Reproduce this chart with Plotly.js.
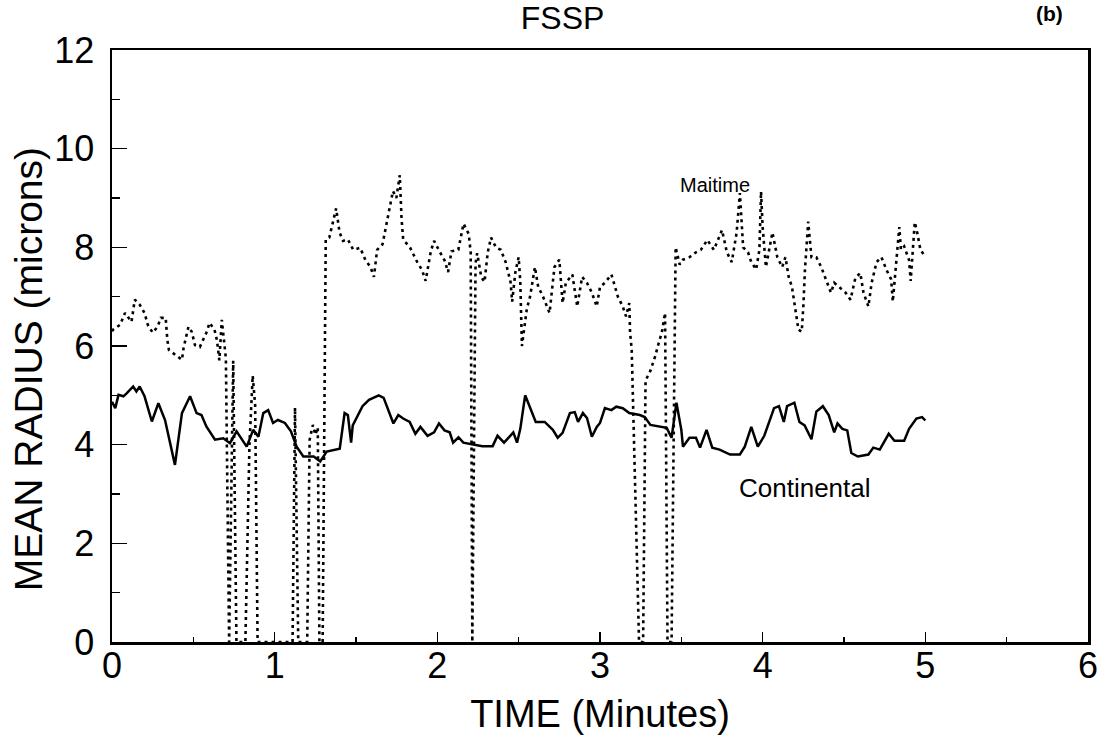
<!DOCTYPE html>
<html>
<head>
<meta charset="utf-8">
<script src="https://cdn.plot.ly/plotly-3.0.1.min.js"></script>
<style>html,body{margin:0;padding:0;background:#fff;}#chart{width:1103px;height:741px;}</style>
</head>
<body>
<div id="chart"></div>
<script>
// Continental (solid) — time in minutes, mean radius in microns
const contTime = [0.00,0.02,0.04,0.07,0.09,0.11,0.13,0.15,0.17,0.20,0.245,0.285,0.326,0.387,0.43,0.48,0.52,0.55,0.58,0.633,0.684,0.725,0.766,0.828,0.868,0.90,0.93,0.96,0.99,1.02,1.063,1.10,1.135,1.176,1.24,1.28,1.32,1.40,1.43,1.45,1.47,1.48,1.54,1.58,1.64,1.67,1.73,1.76,1.79,1.83,1.865,1.896,1.94,1.98,2.01,2.044,2.076,2.097,2.13,2.16,2.21,2.277,2.34,2.37,2.41,2.467,2.49,2.51,2.54,2.605,2.66,2.71,2.74,2.77,2.815,2.845,2.865,2.895,2.92,2.95,2.98,3.00,3.02,3.03,3.07,3.10,3.14,3.18,3.245,3.275,3.31,3.38,3.41,3.44,3.47,3.50,3.51,3.55,3.59,3.615,3.655,3.69,3.735,3.80,3.86,3.89,3.93,3.97,4.01,4.07,4.10,4.13,4.15,4.195,4.226,4.258,4.30,4.33,4.37,4.406,4.44,4.46,4.49,4.52,4.545,4.585,4.65,4.68,4.72,4.775,4.81,4.87,4.90,4.945,4.98,5.00];
const contRadius = [4.87,4.74,5.01,4.98,5.04,5.11,5.18,5.08,5.18,4.98,4.47,4.84,4.50,3.59,4.64,4.98,4.64,4.60,4.37,4.10,4.13,4.03,4.27,3.96,4.30,4.16,4.64,4.70,4.44,4.50,4.44,4.27,3.96,3.76,3.76,3.66,3.86,3.92,4.64,4.60,4.04,4.39,4.78,4.91,5.00,4.95,4.43,4.60,4.53,4.46,4.22,4.36,4.18,4.25,4.43,4.29,4.25,4.04,4.15,4.04,4.01,3.97,3.97,4.18,4.04,4.25,4.04,4.32,5.00,4.46,4.46,4.30,4.14,4.24,4.64,4.66,4.46,4.64,4.54,4.16,4.36,4.44,4.64,4.74,4.70,4.77,4.74,4.64,4.60,4.56,4.40,4.36,4.34,4.14,4.85,4.30,3.96,4.14,4.14,3.94,4.30,3.94,3.90,3.80,3.80,3.96,4.36,3.96,4.18,4.74,4.78,4.46,4.78,4.85,4.46,4.39,4.11,4.67,4.78,4.60,4.25,4.43,4.32,4.29,3.83,3.76,3.80,3.94,3.90,4.22,4.08,4.08,4.32,4.53,4.56,4.49];

// Maritime (dotted)
const mariTime = [0.00,0.006,0.05,0.08,0.12,0.14,0.17,0.20,0.22,0.25,0.28,0.30,0.33,0.34,0.35,0.39,0.43,0.44,0.47,0.49,0.51,0.54,0.58,0.60,0.63,0.645,0.66,0.675,0.69,0.70,0.72,0.745,0.765,0.82,0.845,0.865,0.88,0.895,1.11,1.125,1.145,1.20,1.215,1.235,1.25,1.265,1.275,1.295,1.314,1.336,1.378,1.399,1.42,1.45,1.483,1.526,1.558,1.589,1.61,1.63,1.663,1.684,1.705,1.727,1.748,1.769,1.78,1.79,1.833,1.875,1.906,1.928,1.96,1.98,2.013,2.044,2.066,2.087,2.129,2.161,2.193,2.205,2.215,2.235,2.245,2.27,2.29,2.31,2.33,2.36,2.39,2.42,2.45,2.46,2.48,2.50,2.51,2.52,2.55,2.57,2.60,2.62,2.65,2.69,2.72,2.75,2.77,2.79,2.83,2.86,2.89,2.92,2.95,2.98,3.00,3.03,3.07,3.11,3.14,3.16,3.18,3.185,3.195,3.24,3.265,3.28,3.31,3.34,3.36,3.38,3.39,3.40,3.415,3.44,3.465,3.49,3.51,3.55,3.59,3.62,3.66,3.70,3.75,3.78,3.81,3.84,3.86,3.88,3.91,3.93,3.96,3.98,3.99,4.00,4.02,4.06,4.09,4.12,4.14,4.16,4.18,4.20,4.22,4.24,4.25,4.26,4.27,4.28,4.30,4.33,4.36,4.39,4.42,4.44,4.47,4.51,4.54,4.57,4.60,4.62,4.65,4.67,4.70,4.73,4.76,4.79,4.80,4.82,4.84,4.85,4.87,4.90,4.91,4.935,4.95,4.97,5.00];
const mariRadius = [6.30,6.33,6.43,6.67,6.49,6.94,6.84,6.67,6.43,6.27,6.39,6.57,6.57,6.13,5.92,5.82,5.72,5.96,6.39,6.29,6.02,5.98,6.27,6.47,6.33,6.12,5.71,6.53,6.00,5.75,0,5.70,0,0,4.00,5.40,4.80,0,0,4.75,0,0,4.10,4.40,4.20,4.35,0,0,8.16,8.20,8.79,8.30,8.13,8.16,7.95,7.99,7.74,7.60,7.40,7.95,8.06,8.44,8.79,9.14,9.00,9.46,8.58,8.16,7.99,7.71,7.54,7.32,7.92,8.13,7.92,7.74,7.50,7.92,7.95,8.48,8.27,7.90,0,7.68,7.88,7.40,7.30,7.90,8.20,8.00,7.95,7.70,7.30,6.90,7.50,7.80,7.30,6.00,6.75,7.00,7.60,7.20,7.00,6.67,7.60,7.75,6.87,7.28,7.45,6.80,7.40,7.28,7.08,6.80,7.20,7.28,7.45,7.00,6.80,6.60,6.87,6.27,5.92,0,0,5.30,5.50,5.80,6.05,6.27,6.47,6.67,0,0,8.00,7.65,7.75,7.80,7.90,7.95,8.15,7.95,8.35,7.90,7.70,8.30,9.10,8.00,7.90,7.70,7.55,7.95,9.13,8.40,7.60,8.30,7.80,7.60,7.80,7.40,7.20,6.80,6.33,6.29,6.80,7.55,8.15,8.52,7.80,7.80,7.60,7.35,7.08,7.28,7.20,7.08,6.94,7.38,7.48,7.08,6.80,7.28,7.70,7.80,7.55,7.35,6.90,7.75,8.41,7.95,8.02,7.74,7.32,8.51,8.30,7.95,7.81];

const xTickVals = [0,1,2,3,4,5,6];
const yTickVals = [0,2,4,6,8,10,12];
const seriesLabels = ["Maitime", "Continental"];

const FONT = "Liberation Sans, Arial, Helvetica, sans-serif";

const traces = [
  {x: contTime, y: contRadius, type: "scatter", mode: "lines", name: "Continental",
   line: {color: "#000", width: 2.5, dash: "solid"}, hoverinfo: "skip"},
  {x: mariTime, y: mariRadius, type: "scatter", mode: "lines", name: "Maritime",
   line: {color: "#000", width: 2.6, dash: "3px,4px"}, hoverinfo: "skip"}
];

const layout = {
  width: 1103, height: 741,
  paper_bgcolor: "#fff", plot_bgcolor: "#fff",
  showlegend: false,
  margin: {l: 112, r: 15, t: 50, b: 99, pad: 0},
  font: {family: FONT, color: "#000"},
  title: {text: "FSSP", font: {family: FONT, size: 32, color: "#000"},
          x: 0.51, xref: "container", xanchor: "center", y: 0.9757, yref: "container", yanchor: "middle"},
  xaxis: {
    range: [0, 6], tickvals: xTickVals, ticktext: xTickVals.map(String),
    ticks: "inside", ticklen: 10, tickwidth: 1.5, tickcolor: "#000",
    minor: {dtick: 0.5, ticks: "inside", ticklen: 5, tickwidth: 1.2, tickcolor: "#000"},
    showline: true, linecolor: "#000", linewidth: 2.5, mirror: true,
    showgrid: false, zeroline: false, automargin: false,
    tickfont: {family: FONT, size: 36, color: "#000"}, ticklabelstandoff: -10,
    title: {text: "TIME (Minutes)", font: {family: FONT, size: 38, color: "#000"}, standoff: 16}
  },
  yaxis: {
    range: [0, 12], tickvals: yTickVals, ticktext: yTickVals.map(String),
    ticks: "inside", ticklen: 15, tickwidth: 1.5, tickcolor: "#000",
    minor: {dtick: 1, ticks: "inside", ticklen: 8, tickwidth: 1.2, tickcolor: "#000"},
    showline: true, linecolor: "#000", linewidth: 2.5, mirror: true,
    showgrid: false, zeroline: false, automargin: false,
    tickfont: {family: FONT, size: 36, color: "#000"}, ticklabelstandoff: 8
  },
  annotations: [
    {x: -0.086, y: 0.461, xref: "paper", yref: "paper", text: "MEAN RADIUS (microns)", textangle: -90,
     showarrow: false, font: {family: FONT, size: 39, color: "#000"}, xanchor: "center", yanchor: "middle"},
    {x: 3.71, y: 9.27, xref: "x", yref: "y", text: seriesLabels[0], showarrow: false,
     font: {family: FONT, size: 20, color: "#000"}, xanchor: "center", yanchor: "middle"},
    {x: 4.26, y: 3.12, xref: "x", yref: "y", text: seriesLabels[1], showarrow: false,
     font: {family: FONT, size: 26, color: "#000"}, xanchor: "center", yanchor: "middle"},
    {x: 0.961, y: 1.061, xref: "paper", yref: "paper", text: "<b>(b)</b>", showarrow: false,
     font: {family: FONT, size: 21, color: "#000"}, xanchor: "center", yanchor: "middle"}
  ]
};

Plotly.newPlot("chart", traces, layout, {staticPlot: true, displayModeBar: false});
</script>
</body>
</html>
